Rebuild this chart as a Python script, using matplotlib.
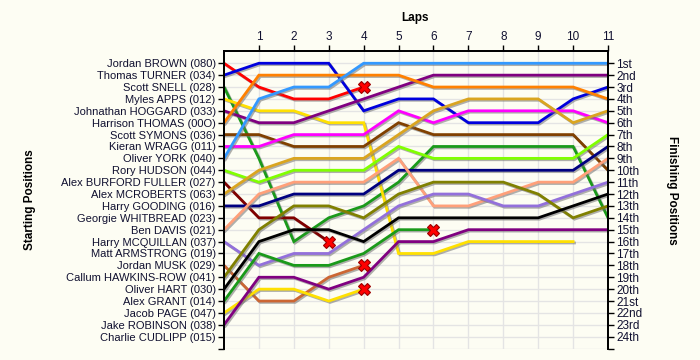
import matplotlib
matplotlib.use("Agg")
import matplotlib.pyplot as plt
import matplotlib.patheffects as pe

plt.rcParams["font.family"] = ["Liberation Sans", "DejaVu Sans"]

# ---- data ----
drivers = ["Jordan BROWN (080)", "Thomas TURNER (034)", "Scott SNELL (028)", "Myles APPS (012)",
           "Johnathan HOGGARD (033)", "Harrison THOMAS (00O)", "Scott SYMONS (036)", "Kieran WRAGG (011)",
           "Oliver YORK (040)", "Rory HUDSON (044)", "Alex BURFORD FULLER (027)", "Alex MCROBERTS (063)",
           "Harry GOODING (016)", "Georgie WHITBREAD (023)", "Ben DAVIS (021)", "Harry MCQUILLAN (037)",
           "Matt ARMSTRONG (019)", "Jordan MUSK (029)", "Callum HAWKINS-ROW (041)", "Oliver HART (030)",
           "Alex GRANT (014)", "Jacob PAGE (047)", "Jake ROBINSON (038)", "Charlie CUDLIPP (015)"]
finish_labels = ["1st", "2nd", "3rd", "4th", "5th", "6th", "7th", "8th", "9th", "10th", "11th", "12th",
                 "13th", "14th", "15th", "16th", "17th", "18th", "19th", "20th", "21st", "22nd", "23rd", "24th"]
lap_ticks = [1, 2, 3, 4, 5, 6, 7, 8, 9, 10, 11]

# positions from lap 0 onward
pos_brown     = [1, 3, 4, 4, 3]
pos_turner    = [2, 1, 1, 1, 5, 4, 4, 6, 6, 6, 4, 3]
pos_snell     = [3, 9, 16, 14, 13, 11, 8, 8, 8, 8, 8, 14]
pos_apps      = [4, 5, 5, 6, 6, 17, 17, 16, 16, 16, 16]
pos_hoggard   = [5, 6, 6, 5, 4, 3, 2, 2, 2, 2, 2, 2]
pos_thomas    = [6, 2, 2, 2, 2, 2, 3, 3, 3, 3, 3, 4]
pos_symons    = [7, 7, 8, 8, 8, 6, 7, 7, 7, 7, 7, 10]
pos_wragg     = [8, 8, 7, 7, 7, 5, 6, 5, 5, 5, 5, 6]
pos_york      = [9, 4, 3, 3, 1, 1, 1, 1, 1, 1, 1, 1]
pos_hudson    = [10, 11, 10, 10, 10, 8, 9, 9, 9, 9, 9, 7]
pos_burford   = [11, 14, 14, 16]
pos_mcroberts = [12, 10, 9, 9, 9, 7, 5, 4, 4, 4, 6, 5]
pos_gooding   = [13, 13, 12, 12, 12, 10, 10, 10, 10, 10, 10, 8]
pos_davis     = [15, 12, 11, 11, 11, 9, 13, 13, 12, 11, 11, 9]
pos_mcquillan = [16, 18, 17, 17, 15, 13, 12, 12, 13, 13, 12, 11]
pos_musk      = [18, 21, 21, 19, 18]
pos_hawkins   = [19, 15, 13, 13, 14, 12, 11, 11, 11, 12, 14, 13]
pos_hart      = [20, 16, 15, 15, 16, 14, 14, 14, 14, 14, 13, 12]
pos_grant     = [21, 17, 18, 18, 17, 15, 15]
pos_page      = [22, 20, 20, 21, 20]
pos_robinson  = [23, 19, 19, 20, 19, 16, 16, 15, 15, 15, 15, 15]

series = [
    (pos_brown, "#ff0000", True),
    (pos_turner, "#0000dd", False),
    (pos_snell, "#1a9a1a", False),
    (pos_apps, "#ffe000", False),
    (pos_hoggard, "#800080", False),
    (pos_thomas, "#ff8000", False),
    (pos_symons, "#804000", False),
    (pos_wragg, "#ff00ff", False),
    (pos_york, "#3399ff", False),
    (pos_hudson, "#80ff00", False),
    (pos_burford, "#800000", True),
    (pos_mcroberts, "#daa520", False),
    (pos_gooding, "#000080", False),
    (pos_davis, "#ffa07a", False),
    (pos_mcquillan, "#9370db", False),
    (pos_musk, "#cc6633", True),
    (pos_hawkins, "#808000", False),
    (pos_hart, "#000000", False),
    (pos_grant, "#1a9a1a", True),
    (pos_page, "#ffe000", True),
    (pos_robinson, "#800080", False),
]

bg = "#fdfdf3"
txt = "#101030"

fig = plt.figure(figsize=(7, 3.6), dpi=100, facecolor=bg)
ax = fig.add_axes([0.32, 0.0317, 0.5486, 0.8256])
ax.set_facecolor(bg)
ax.set_xlim(0, 11)
ax.set_ylim(25, 0)

for x in lap_ticks:
    ax.axvline(x, color="#e4e4e4", lw=1, zorder=0)
for y in range(1, 26):
    ax.axhline(y, color="#e4e4e4", lw=1, zorder=0)

shadow = [pe.SimpleLineShadow(offset=(1, -1), shadow_color="#707070", alpha=0.55), pe.Normal()]
for vals, col, dnf in series:
    xs = list(range(len(vals)))
    ax.plot(xs, vals, color=col, lw=2, solid_joinstyle="miter", path_effects=shadow, zorder=2)
    if dnf:
        ax.plot(xs[-1], vals[-1], marker="X", ms=8, color="#ff0000", mec="#990000", mew=0.8, zorder=5)

ax.xaxis.tick_top()
ax.set_xticks(lap_ticks)
ax.set_xticklabels([str(v) for v in lap_ticks], fontsize=8.5, color=txt)
ax.set_yticks(range(1, 26))
ax.set_yticklabels(drivers + [""], fontsize=8, color=txt)
ax.tick_params(axis="both", direction="out", length=4, width=1, pad=2)

ax2 = ax.twinx()
ax2.set_ylim(25, 0)
ax2.set_yticks(range(1, 26))
ax2.set_yticklabels(finish_labels + [""], fontsize=8.5, color=txt)
ax2.tick_params(axis="y", direction="out", length=4, width=1, pad=2)

for a in (ax, ax2):
    a.spines["bottom"].set_visible(False)
    for s in ("top", "left", "right"):
        a.spines[s].set_linewidth(1.3)

fig.text(415 / 700, 1 - 18 / 360, "Laps", fontsize=8.5, fontweight="bold", ha="center", va="center")
fig.text(30 / 700, 1 - 200 / 360, "Starting Positions", fontsize=8.5, fontweight="bold",
         rotation=90, ha="center", va="center")
fig.text(672 / 700, 1 - 190 / 360, "Finishing Positions", fontsize=8.5, fontweight="bold",
         rotation=270, ha="center", va="center")

fig.savefig("out.png", dpi=100, facecolor=bg)
